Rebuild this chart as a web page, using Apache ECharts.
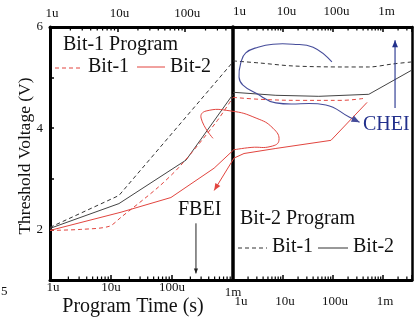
<!DOCTYPE html>
<html>
<head>
<meta charset="utf-8">
<script src="https://cdn.jsdelivr.net/npm/echarts@6/dist/echarts.min.js"></script>
<style>
  html, body { margin: 0; padding: 0; background: #fff; }
  #chart { width: 417px; height: 323px; }
</style>
</head>
<body>
<div id="chart"></div>
<script>
// ---- Bit-1 program panel (program time in s, threshold voltage in V) ----
const p1Bit1Time = [1e-6, 3.2e-6, 9.3e-6, 1.46e-5, 5.9e-5, 1.4e-4, 5.3e-4, 1e-3];
const p1Bit1Vt   = [1.98, 2.00, 2.06, 2.24, 2.83, 3.27, 4.12, 4.61];
const p1Bit2Time = [1e-6, 1.46e-5, 9.6e-5, 4.9e-4, 1e-3];
const p1Bit2Vt   = [1.98, 2.34, 2.63, 3.21, 3.56];
const p1DashTime = [1e-6, 1.35e-5, 1e-3];
const p1DashVt   = [2.04, 2.67, 5.31];
const p1SolidTime = [1e-6, 1.35e-5, 1.7e-4, 1e-3];
const p1SolidVt   = [2.02, 2.51, 3.37, 4.67];

// ---- Bit-2 program panel ----
const p2Bit1Time = [1e-6, 3.3e-6, 1.58e-5, 1.58e-4, 5.2e-4, 1.58e-3, 3.8e-3];
const p2Bit1Vt   = [5.33, 5.29, 5.23, 5.21, 5.21, 5.27, 5.31];
const p2Bit2Time = [1e-6, 7.2e-6, 5.2e-5, 5.2e-4, 3.8e-3];
const p2Bit2Vt   = [4.71, 4.65, 4.63, 4.67, 5.15];
const p2RedTime  = [1e-6, 3.6e-6, 2.3e-5, 1.45e-4, 4.2e-4];
const p2RedVt    = [4.61, 4.57, 4.55, 4.55, 4.59];

// ---- annotation paths (time, voltage), placed on the Bit-2 panel axes ----
const fbeiLoopTime = [3.98e-7, 2.3e-7, 2.9e-7, 9.1e-7, 2.9e-6, 6.3e-6, 8.3e-6, 5.75e-6, 2.3e-6, 1e-6];
const fbeiLoopVt   = [3.80, 4.20, 4.34, 4.34, 4.20, 4.00, 3.76, 3.64, 3.62, 3.57];
const fbeiArrowTime = [4.8e-4, 9.1e-5, 7.2e-6, 1.66e-6, 1.05e-6, 4.2e-7];
const fbeiArrowVt   = [4.51, 3.76, 3.60, 3.50, 3.41, 2.77];
const fbeiMarkTime = [2.47e-4, 2.47e-4];   // on the Bit-1 panel axes
const fbeiMarkVt   = [2.12, 1.13];
const cheiLoopTime = [9.5e-5, 4e-5, 1.58e-5, 6.3e-6, 3.16e-6, 1.8e-6, 1.45e-6, 1.32e-6, 1.58e-6, 2.9e-6, 7.2e-6, 7.2e-5, 2.1e-4, 3.4e-4];
const cheiLoopVt   = [5.31, 5.60, 5.66, 5.66, 5.60, 5.49, 5.31, 5.01, 4.85, 4.69, 4.50, 4.46, 4.22, 4.12];
const cheiRiseTime = [1.74e-3, 1.74e-3];
const cheiRiseVt   = [4.40, 5.74];

// ---- tick labels ----
const decadeLabels = { '-6': '1u', '-5': '10u', '-4': '100u', '-3': '1m' };

const FONT = '"Liberation Serif", "Times New Roman", serif';
const RED = '#e2453f';
const INK = '#111';
const NAVY = '#22308c';

const zip = (t, v) => t.map((x, i) => [x, v[i]]);

function decadeOf(v) {
  const e = Math.round(Math.log10(v));
  return Math.abs(Math.log10(v) - e) < 1e-6 ? String(e) : null;
}
function makeFormatter(firstStyle, restStyle, lastStyle) {
  return function (v) {
    const e = decadeOf(v);
    if (e === null || !decadeLabels[e]) return '';
    let s = restStyle;
    if (e === '-6' && firstStyle) s = firstStyle;
    if (e === '-3' && lastStyle) s = lastStyle;
    return '{' + s + '|' + decadeLabels[e] + '}';
  };
}
const lab = (pad) => ({ fontFamily: FONT, fontSize: 13, color: INK, padding: pad });

function logAxis(grid, pos, max, margin, formatter, rich) {
  return {
    gridIndex: grid, type: 'log', position: pos, min: 1e-6, max: max,
    axisLine: { show: true, lineStyle: { color: '#000', width: 3 } },
    axisTick: { show: true, inside: true, length: 5, lineStyle: { color: '#000', width: 1.5 } },
    axisLabel: { show: true, margin: margin, formatter: formatter, rich: rich,
                 showMinLabel: true, showMaxLabel: true, hideOverlap: false },
    splitLine: { show: false }
  };
}

// log-spaced minor ticks (2..9 of each decade) inside an axis range
function minorValues(lo, hi, side) {
  const out = [];
  for (let e = -7; e <= -2; e++) {
    for (let k = 2; k <= 9; k++) {
      const v = k * Math.pow(10, e);
      if (v > lo * 1.0001 && v < hi * 0.9999) out.push([v, side]);
    }
  }
  return out;
}
function minorSeries(xi, yi, lo, hi, side) {
  return {
    type: 'custom', xAxisIndex: xi, yAxisIndex: yi, silent: true, z: 6,
    data: minorValues(lo, hi, side),
    renderItem: function (params, api) {
      const top = api.value(1) === 1;
      const p = api.coord([api.value(0), top ? 6 : 1]);
      return { type: 'line',
        shape: { x1: p[0], y1: p[1], x2: p[0], y2: p[1] + (top ? 3.5 : -3.5) },
        style: { stroke: '#000', lineWidth: 1.2 } };
    }
  };
}

function lineSeries(xi, yi, data, color, dashed, smooth, width) {
  return {
    type: 'line', xAxisIndex: xi, yAxisIndex: yi, data: data, symbol: 'none',
    smooth: smooth || false, clip: false, silent: true, z: 3,
    lineStyle: { color: color, width: width || 1, type: dashed ? [4, 3] : 'solid' }
  };
}

// annotation stroke (optionally smoothed) with an optional filled arrowhead at its end
function pathSeries(xi, yi, pts, color, width, smooth, head) {
  return {
    type: 'custom', xAxisIndex: xi, yAxisIndex: yi, silent: true, z: 4, clip: false,
    data: [pts[pts.length - 1]],
    renderItem: function (params, api) {
      const P = pts.map(p => api.coord(p));
      const children = [{
        type: 'polyline', shape: { points: P, smooth: smooth || 0 },
        style: { stroke: color, lineWidth: width, fill: null }
      }];
      if (head) {
        const a = P[P.length - 2], b = P[P.length - 1];
        const ang = Math.atan2(b[1] - a[1], b[0] - a[0]);
        const L = head, W = head * 0.42;
        const bx = b[0] - L * Math.cos(ang), by = b[1] - L * Math.sin(ang);
        const nx = -Math.sin(ang), ny = Math.cos(ang);
        children.push({
          type: 'polygon',
          shape: { points: [[b[0], b[1]], [bx + W * nx, by + W * ny], [bx - W * nx, by - W * ny]] },
          style: { fill: color, stroke: null }
        });
      }
      return { type: 'group', children: children };
    }
  };
}

const TOP_L_MAX = 5.1e-4;
const R_MAX = 3.8e-3;

const option = {
  animation: false,
  backgroundColor: '#fff',
  grid: [
    { left: 50, top: 27, width: 183, height: 253 },
    { left: 233, top: 27, width: 179, height: 253 }
  ],
  xAxis: [
    logAxis(0, 'bottom', 1e-3, 1, makeFormatter('a', 'b', 'c'),
            { a: lab([0, 0, 0, 6]), b: lab(0), c: lab([5, 0, 0, 0]) }),
    logAxis(0, 'top', TOP_L_MAX, 7, makeFormatter(null, 'a', null), { a: lab([0, 0, 0, 4]) }),
    logAxis(1, 'bottom', R_MAX, 15, makeFormatter('a', 'b', null),
            { a: lab([0, 0, 0, 16]), b: lab([0, 0, 0, 4]) }),
    logAxis(1, 'top', R_MAX, 9, makeFormatter('a', 'b', null),
            { a: lab([0, 0, 0, 13]), b: lab([0, 0, 0, 7]) })
  ],
  yAxis: [
    { gridIndex: 0, type: 'value', min: 1, max: 6, interval: 1, position: 'left',
      axisLine: { show: true, lineStyle: { color: '#000', width: 3 } },
      axisTick: { show: true, inside: true, length: 4, lineStyle: { color: '#000', width: 1.5 } },
      axisLabel: { margin: 7, fontFamily: FONT, fontSize: 13, color: INK,
                   formatter: v => (v % 2 === 0 ? String(v) : '') },
      splitLine: { show: false } },
    { gridIndex: 1, type: 'value', min: 1, max: 6, interval: 1, position: 'left',
      axisLine: { show: true, lineStyle: { color: '#000', width: 3.5 } },
      axisTick: { show: false }, axisLabel: { show: false }, splitLine: { show: false } },
    { gridIndex: 1, type: 'value', min: 1, max: 6, interval: 1, position: 'right',
      axisLine: { show: true, lineStyle: { color: '#000', width: 2.5 } },
      axisTick: { show: false }, axisLabel: { show: false }, splitLine: { show: false } }
  ],
  series: [
    // Bit-1 program panel
    lineSeries(0, 0, zip(p1DashTime, p1DashVt), '#333', true),
    lineSeries(0, 0, zip(p1SolidTime, p1SolidVt), '#444', false),
    lineSeries(0, 0, zip(p1Bit1Time, p1Bit1Vt), RED, true, 0.3),
    lineSeries(0, 0, zip(p1Bit2Time, p1Bit2Vt), RED, false),
    // Bit-2 program panel
    lineSeries(2, 1, zip(p2Bit1Time, p2Bit1Vt), '#333', true, 0.3),
    lineSeries(2, 1, zip(p2Bit2Time, p2Bit2Vt), '#444', false),
    lineSeries(2, 1, zip(p2RedTime, p2RedVt), RED, true, 0.4),
    // annotations
    pathSeries(2, 1, zip(fbeiLoopTime, fbeiLoopVt), RED, 1, 0.5, 0),
    pathSeries(2, 1, zip(fbeiArrowTime, fbeiArrowVt), RED, 1, 0, 7),
    pathSeries(0, 0, zip(fbeiMarkTime, fbeiMarkVt), '#222', 1, 0, 5),
    pathSeries(2, 1, zip(cheiLoopTime, cheiLoopVt), '#454c9a', 1.1, 0.45, 8),
    pathSeries(2, 1, zip(cheiRiseTime, cheiRiseVt), NAVY, 1.1, 0, 7),
    // minor ticks
    minorSeries(0, 0, 1e-6, 1e-3, 0),
    minorSeries(1, 0, 1e-6, TOP_L_MAX, 1),
    minorSeries(2, 1, 1e-6, R_MAX, 0),
    minorSeries(3, 1, 1e-6, R_MAX, 1)
  ],
  graphic: [
    { type: 'text', x: 25, y: 156, rotation: Math.PI / 2,
      style: { text: 'Threshold Voltage (V)', fontFamily: FONT, fontSize: 17.5, fill: INK,
               textAlign: 'center', textVerticalAlign: 'middle' } },
    { type: 'text', x: 133, y: 307,
      style: { text: 'Program Time (s)', fontFamily: FONT, fontSize: 20, fill: INK,
               textAlign: 'center', textVerticalAlign: 'middle' } },
    { type: 'text', x: 1, y: 292,
      style: { text: '5', fontFamily: FONT, fontSize: 13, fill: INK,
               textAlign: 'left', textVerticalAlign: 'middle' } },
    // Bit-1 program legend
    { type: 'text', x: 63, y: 45,
      style: { text: 'Bit-1 Program', fontFamily: FONT, fontSize: 20, fill: INK,
               textAlign: 'left', textVerticalAlign: 'middle' } },
    { type: 'line', shape: { x1: 55, y1: 68, x2: 83, y2: 68 },
      style: { stroke: RED, lineWidth: 1, lineDash: [4, 3] } },
    { type: 'text', x: 88, y: 67,
      style: { text: 'Bit-1', fontFamily: FONT, fontSize: 20, fill: INK,
               textAlign: 'left', textVerticalAlign: 'middle' } },
    { type: 'line', shape: { x1: 137, y1: 67, x2: 165, y2: 67 },
      style: { stroke: RED, lineWidth: 1 } },
    { type: 'text', x: 170, y: 67,
      style: { text: 'Bit-2', fontFamily: FONT, fontSize: 20, fill: INK,
               textAlign: 'left', textVerticalAlign: 'middle' } },
    // Bit-2 program legend
    { type: 'text', x: 240, y: 219,
      style: { text: 'Bit-2 Program', fontFamily: FONT, fontSize: 20, fill: INK,
               textAlign: 'left', textVerticalAlign: 'middle' } },
    { type: 'line', shape: { x1: 238, y1: 248, x2: 267, y2: 248 },
      style: { stroke: '#333', lineWidth: 1, lineDash: [4, 3] } },
    { type: 'text', x: 272, y: 247,
      style: { text: 'Bit-1', fontFamily: FONT, fontSize: 20, fill: INK,
               textAlign: 'left', textVerticalAlign: 'middle' } },
    { type: 'line', shape: { x1: 318, y1: 248, x2: 348, y2: 248 },
      style: { stroke: '#333', lineWidth: 1 } },
    { type: 'text', x: 353, y: 247,
      style: { text: 'Bit-2', fontFamily: FONT, fontSize: 20, fill: INK,
               textAlign: 'left', textVerticalAlign: 'middle' } },
    // mechanism labels
    { type: 'text', x: 178, y: 210,
      style: { text: 'FBEI', fontFamily: FONT, fontSize: 20, fill: INK,
               textAlign: 'left', textVerticalAlign: 'middle' } },
    { type: 'text', x: 363, y: 125,
      style: { text: 'CHEI', fontFamily: FONT, fontSize: 20, fill: NAVY,
               textAlign: 'left', textVerticalAlign: 'middle' } }
  ]
};

const chart = echarts.init(document.getElementById('chart'), null, { renderer: 'canvas' });
chart.setOption(option);
</script>
</body>
</html>
